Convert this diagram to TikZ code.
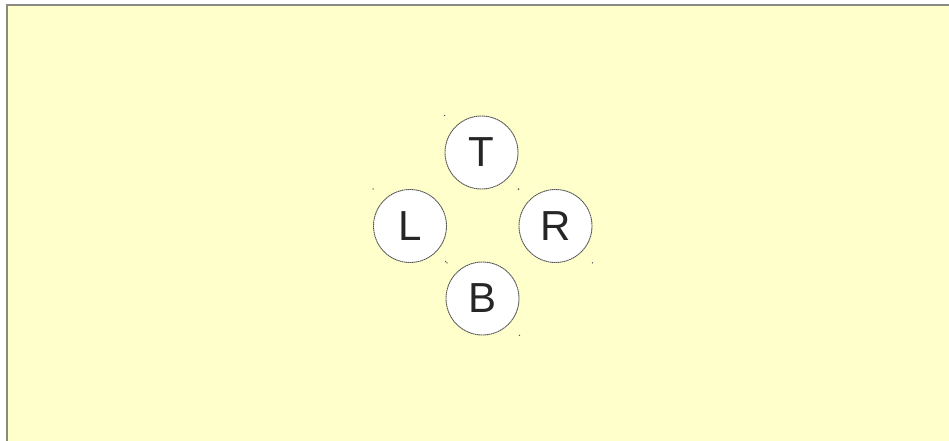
\documentclass[tikz,border=0pt]{standalone}
\usepackage{fontspec}
\setmainfont{Liberation Sans}
\definecolor{bgyellow}{HTML}{FFFFCC}
\definecolor{framegray}{HTML}{8A8A80}
\definecolor{ringgray}{HTML}{555555}
\tikzset{
  dot/.style={circle,fill=ringgray,inner sep=0pt,minimum size=1.5pt},
  ball/.style={circle,draw=ringgray,dash pattern=on 1.5pt off 0.5pt,line width=0.9pt,fill=white,minimum size=73pt,inner sep=0pt,font=\fontsize{42}{50}\selectfont,text=black!85}
}
\begin{document}
\begin{tikzpicture}[x=1pt,y=-1pt]
\useasboundingbox (0,0) rectangle (949,441);
\fill[white] (0,0) rectangle (949,441);
\fill[bgyellow] (7,5) rectangle (949,441);
\draw[framegray,line width=2pt] (7,441) -- (7,5) -- (949,5);
\node[ball] (T) at (481.5,152.5) {T};
\node[ball] (L) at (410,226) {L};
\node[ball] (R) at (555.5,226) {R};
\node[ball] (B) at (482.5,298.5) {B};
\foreach \n in {T,L,R,B}{
  \node[dot] at (\n.west |- \n.north) {};
  \node[dot] at (\n.east |- \n.south) {};
}
\end{tikzpicture}
\end{document}
